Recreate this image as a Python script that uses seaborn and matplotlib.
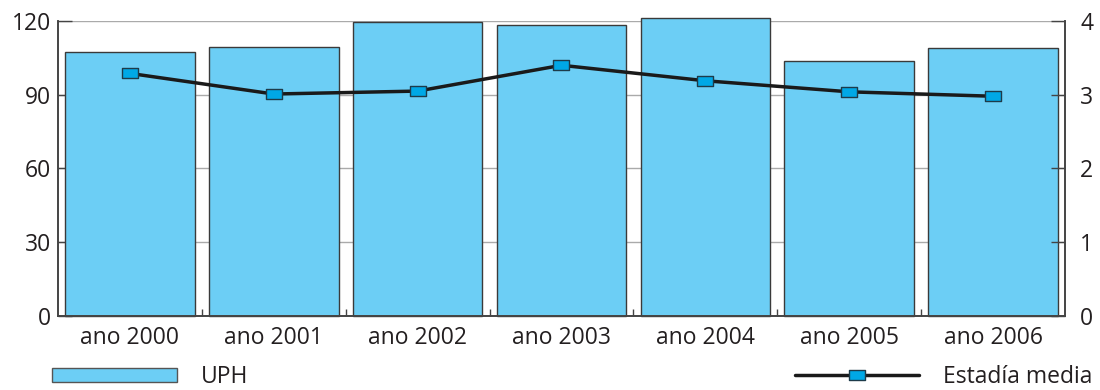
import numpy as np
import pandas as pd
import matplotlib
matplotlib.use("Agg")
import matplotlib.pyplot as plt
import seaborn as sns
from matplotlib.path import Path
from matplotlib.patches import Patch
from matplotlib.lines import Line2D

# ---- data ----
years = ["ano 2000", "ano 2001", "ano 2002", "ano 2003", "ano 2004", "ano 2005", "ano 2006"]
uph = [107.5, 109.4, 119.6, 118.4, 121.2, 103.7, 109.0]
estadia = [3.29, 3.01, 3.05, 3.40, 3.19, 3.04, 2.98]
left_ticks = [0, 30, 60, 90, 120]
right_ticks = [0, 1, 2, 3, 4]
bar_label = "UPH"
line_label = "Estadía media"

bar_color = "#6ccef5"
marker_color = "#00a8e6"
line_color = "#1a1a1a"
spine_color = "#444444"
text_color = "#231f20"
FS = 16.5

sns.set_theme(style="white")
plt.rcParams["font.family"] = ["Open Sans", "DejaVu Sans"]

rect = Path([(-1.6, -1), (1.6, -1), (1.6, 1), (-1.6, 1), (-1.6, -1)],
            [Path.MOVETO, Path.LINETO, Path.LINETO, Path.LINETO, Path.CLOSEPOLY])

df = pd.DataFrame({"year": years, "uph": uph, "estadia": estadia})

fig = plt.figure(figsize=(11, 3.9), dpi=100)
ax = fig.add_axes([0.0527, 0.190, 0.9155, 0.756])

sns.barplot(data=df, x="year", y="uph", ax=ax, color=bar_color, saturation=1,
            width=0.9, edgecolor="#3a3a3a", linewidth=1)
for p in ax.patches:
    p.set_clip_on(False)
ax.set_axisbelow(True)
ax.yaxis.grid(True, color="#aaaaaa", lw=1)
ax.xaxis.grid(False)

ax2 = ax.twinx()
sns.lineplot(data=df, x="year", y="estadia", ax=ax2, sort=False, color=line_color,
             lw=2.5, marker=rect, markersize=11, markerfacecolor=marker_color,
             markeredgecolor="#1d3b4a", markeredgewidth=1)
ax2.grid(False)

ax.set_xlim(-0.5, len(years) - 0.5)
ax.set_ylim(0, 120)
ax2.set_ylim(0, 4)
ax.set_yticks(left_ticks)
ax2.set_yticks(right_ticks)
ax.set_xticks(range(len(years)))
ax.set_xticklabels(years)
ax.set_xticks(np.arange(len(years) - 1) + 0.5, minor=True)

for a in (ax, ax2):
    a.set_xlabel("")
    a.set_ylabel("")
    a.spines["top"].set_visible(False)
    for s in ("left", "right", "bottom"):
        a.spines[s].set_color(spine_color)
        a.spines[s].set_linewidth(1.2)

ax.tick_params(axis="y", direction="in", length=10, width=1, color=spine_color,
               labelsize=FS, labelcolor=text_color, pad=5, left=True)
ax2.tick_params(axis="y", direction="in", length=10, width=1, color=spine_color,
                labelsize=FS, labelcolor=text_color, pad=11, right=True)
ax.tick_params(axis="x", which="major", length=0, labelsize=FS, labelcolor=text_color, pad=7)
ax.tick_params(axis="x", which="minor", direction="in", length=5, width=1,
               color=spine_color, bottom=True)

fig.legend(handles=[Patch(facecolor=bar_color, edgecolor="#555555", lw=1)],
           labels=[bar_label], loc="center left",
           bbox_to_anchor=(52 / 1100, 1 - 377 / 390), frameon=False, fontsize=FS,
           handlelength=5.45, handleheight=0.62, handletextpad=1.05,
           borderpad=0, borderaxespad=0, labelcolor=text_color)
fig.legend(handles=[Line2D([], [], color=line_color, lw=2.5, marker=rect, markersize=11,
                           markerfacecolor=marker_color, markeredgecolor="#1d3b4a")],
           labels=[line_label], loc="center left",
           bbox_to_anchor=(795 / 1100, 1 - 377 / 390), frameon=False, fontsize=FS,
           handlelength=5.4, handletextpad=1.05, numpoints=1,
           borderpad=0, borderaxespad=0, labelcolor=text_color)

fig.savefig("out.png", dpi=100)
